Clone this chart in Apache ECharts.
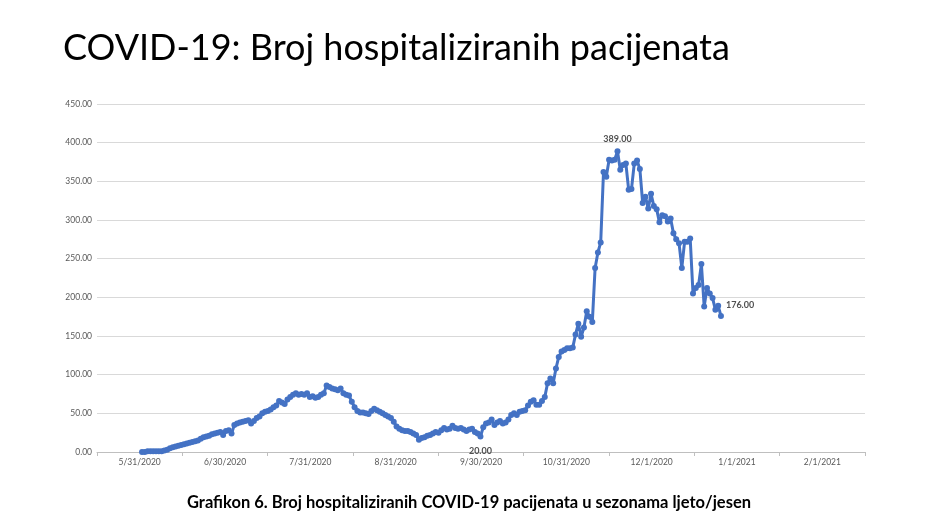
<!DOCTYPE html>
<html>
<head>
<meta charset="utf-8">
<script src="https://cdn.jsdelivr.net/npm/echarts@6/dist/echarts.min.js"></script>
<style>
html,body{margin:0;padding:0;background:#fff;}
#chart{width:938px;height:530px;}
</style>
</head>
<body>
<div id="chart"></div>
<script>
// Tick labels of the date axis (one per ~month slot)
const tickLabels = ['5/31/2020','6/30/2020','7/31/2020','8/31/2020','9/30/2020','10/31/2020','12/1/2020','1/1/2021','2/1/2021'];

// Daily hospitalised patients, starting 6/1/2020 (day index 0)
const hospitalised = [
  0,0,1,1,1,1,1,1,2,3,
  5,6,7,8,9,10,11,12,13,14,
  15,17,19,20,21,23,24,25,26,22,
  27,28,24,35,37,38,39,40,41,37,
  40,44,46,50,52,53,55,58,60,66,
  64,62,68,71,74,76,74,75,74,76,
  71,72,70,71,74,76,86,84,82,81,
  80,82,76,74,73,65,58,53,51,51,
  50,49,53,56,54,52,50,48,46,44,
  39,33,30,28,27,27,26,24,22,16,
  18,19,21,22,24,26,25,28,31,29,
  30,34,31,30,31,29,27,29,30,26,
  24,20,32,37,38,42,35,38,40,37,
  38,42,48,50,48,52,53,54,60,65,
  67,61,61,66,71,89,95,89,108,123,
  130,132,134,134,135,152,166,149,161,182,
  175,168,238,258,271,362,356,378,377,378,
  389,365,371,373,339,340,373,377,366,322,
  330,315,334,318,314,297,306,305,298,302,
  283,275,270,238,272,272,276,205,212,216,
  243,188,212,205,199,184,189,176
];

// Points carrying a value label: [day index, label placement]
const labelledDays = [121, 170, 207];
const labelPlacement = ['bottom', 'top', 'right'];

// x axis range in days (relative to 6/1/2020)
const dayMin = -16.1;
const dayMax = 258.5;

const FONT = 'Lato, "Open Sans", sans-serif';

const lineData = hospitalised.map(function (v, i) {
  const k = labelledDays.indexOf(i);
  const item = { value: [i, v] };
  if (k >= 0) {
    const pos = labelPlacement[k];
    item.label = {
      show: true,
      position: pos,
      distance: pos === 'bottom' ? 7 : 5,
      offset: pos === 'right' ? [-3, -11] : [0, 0],
      formatter: function (p) { return p.value[1].toFixed(2); },
      fontSize: 9,
      fontWeight: 'bold',
      color: '#505050',
      fontFamily: FONT
    };
  }
  return item;
});

const chart = echarts.init(document.getElementById('chart'), null, { renderer: 'canvas' });
chart.setOption({
  backgroundColor: '#ffffff',
  animation: false,
  title: [
    {
      text: 'COVID-19: Broj hospitaliziranih pacijenata',
      left: 58,
      top: 25,
      textStyle: { fontSize: 36, fontWeight: 'normal', color: '#000000', fontFamily: FONT }
    },
    {
      text: 'Grafikon 6. Broj hospitaliziranih COVID-19 pacijenata u sezonama ljeto/jesen',
      left: 'center',
      top: 489,
      textStyle: { fontSize: 16.5, fontWeight: 'bold', color: '#000000', fontFamily: FONT }
    }
  ],
  grid: { left: 97, right: 73, top: 104, bottom: 78, containLabel: false },
  xAxis: [
    {
      type: 'category',
      data: tickLabels,
      boundaryGap: true,
      axisLine: { lineStyle: { color: '#bfbfbf', width: 1 } },
      axisTick: { show: true, length: 4, lineStyle: { color: '#bfbfbf' } },
      axisLabel: { fontSize: 8.5, color: '#595959', margin: 6, fontFamily: FONT },
      splitLine: { show: false }
    },
    {
      type: 'value',
      min: dayMin,
      max: dayMax,
      show: false,
      splitLine: { show: false }
    }
  ],
  yAxis: {
    type: 'value',
    min: 0,
    max: 450,
    interval: 50,
    axisLine: { show: false },
    axisTick: { show: false },
    axisLabel: {
      fontSize: 8.5,
      color: '#595959',
      margin: 5,
      fontFamily: FONT,
      formatter: function (v) { return v.toFixed(2); }
    },
    splitLine: { lineStyle: { color: '#d9d9d9', width: 1 } }
  },
  series: [
    {
      type: 'line',
      xAxisIndex: 1,
      data: lineData,
      symbol: 'circle',
      symbolSize: 6,
      showAllSymbol: true,
      lineStyle: { color: '#4472C4', width: 3 },
      itemStyle: { color: '#4472C4' },
      z: 3
    }
  ]
});
</script>
</body>
</html>
